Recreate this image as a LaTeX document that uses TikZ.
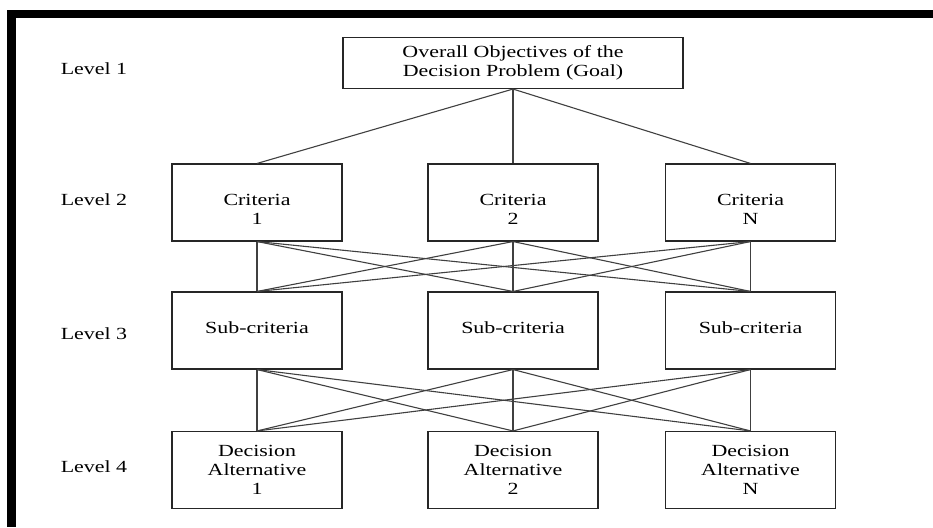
\documentclass[tikz,border=0pt]{standalone}
\usepackage{fontspec}
\setmainfont{Liberation Serif}[FakeStretch=1.29]
\newcommand{\critstrut}{\rule{0pt}{25pt}}
\begin{document}
\begin{tikzpicture}[x=1pt,y=-1pt,
    box/.style={draw=black!85,line width=1.1pt,fill=white,minimum width=170pt,minimum height=77pt,inner sep=0pt,align=center,font=\fontsize{17}{19}\selectfont},
    level/.style={font=\fontsize{17}{19}\selectfont},
    link/.style={black!75,line width=1.1pt}]
    \useasboundingbox (0,0) rectangle (933,527);
    % frame
    \fill[black] (7,10) rectangle (933,18);
    \fill[black] (7,10) rectangle (16,527);
    % level labels
    \node[level] (lev1) at (94,69) {Level 1};
    \node[level] (lev2) at (94,200) {Level 2};
    \node[level] (lev3) at (94,334) {Level 3};
    \node[level] (lev4) at (94,467) {Level 4};
    % goal
    \node[box,minimum width=340pt,minimum height=51pt] (goal) at (513,63) {Overall Objectives of the\\Decision Problem (Goal)};
    % criteria
    \node[box] (crit1) at (257,202.5) {\critstrut Criteria\\1};
    \node[box] (crit2) at (513,202.5) {\critstrut Criteria\\2};
    \node[box] (crit3) at (750.5,202.5) {\critstrut Criteria\\N};
    % sub-criteria
    \node[box,text depth=6pt] (sub1) at (257,330.5) {Sub-criteria};
    \node[box,text depth=6pt] (sub2) at (513,330.5) {Sub-criteria};
    \node[box,text depth=6pt] (sub3) at (750.5,330.5) {Sub-criteria};
    % alternatives
    \node[box] (dec1) at (257,470) {Decision\\Alternative\\1};
    \node[box] (dec2) at (513,470) {Decision\\Alternative\\2};
    \node[box] (dec3) at (750.5,470) {Decision\\Alternative\\N};
    % lines between levels
    \foreach \i in {1,2,3} {
        \draw[link] (goal.south) -- (crit\i.north);
        \foreach \j in {1,2,3} {
            \draw[link] (crit\i.south) -- (sub\j.north);
            \draw[link] (sub\i.south) -- (dec\j.north);
        }
    }
\end{tikzpicture}
\end{document}
